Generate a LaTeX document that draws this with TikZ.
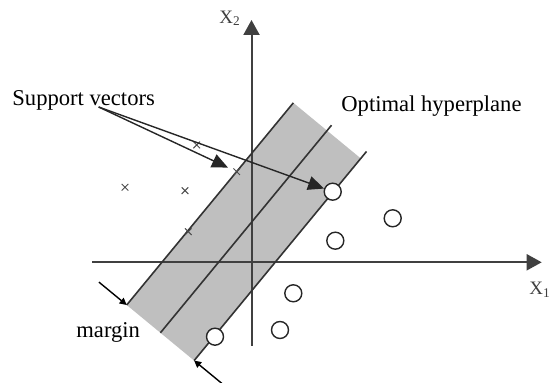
\documentclass[tikz,border=0pt]{standalone}
\usepackage{fontspec}
\setmainfont{Liberation Serif}
\usetikzlibrary{arrows.meta,calc,shapes.misc}

\begin{document}
\begin{tikzpicture}[
  x=0.5pt,
  y=0.5pt,
  font=\fontsize{11.3}{13}\selectfont,
  caption/.style={inner sep=0pt, anchor=base west},
  axislabel/.style={inner sep=0pt, anchor=base west, font=\fontsize{9.5}{11}\selectfont, text=black!75},
  axis/.style={line width=1pt, draw=black!75, -{Triangle[length=7.5pt, width=8pt]}},
  band/.style={fill=black!25},
  edge/.style={line width=0.8pt, draw=black!80},
  pointer/.style={line width=0.7pt, draw=black!85, -{Triangle[length=8pt, width=7pt]}},
  marrow/.style={line width=0.7pt, -{Triangle[length=3.5pt, width=3.5pt]}},
  cross/.style={cross out, draw=black!70, line width=0.5pt, minimum size=2.8pt, inner sep=0pt},
  sample/.style={circle, draw=black!85, fill=white, line width=0.7pt, minimum size=8.5pt, inner sep=0pt}
]
  \useasboundingbox (0,0) rectangle (551,383);

  \begin{scope}[shift={(126.7,78)}, rotate=50.5]
    \coordinate (lb) at (0,0);
    \coordinate (lt) at (262,0);
    \coordinate (mb) at (0,-43.7);
    \coordinate (mt) at (269,-43.7);
    \coordinate (rb) at (0,-87.4);
    \coordinate (rg) at (262,-87.4);
    \coordinate (rt) at (271,-87.4);
  \end{scope}
  \fill[band] (lb) -- (lt) -- (rg) -- (rb) -- cycle;

  \coordinate (xa) at (92,120.7);
  \coordinate (xb) at (541.7,120.7);
  \coordinate (ya) at (251.5,37);
  \coordinate (yb) at (251.5,363);
  \draw[axis] (xa) -- (xb);
  \draw[axis] (ya) -- (yb);
  \node[axislabel] (x2) at (219,359.7) {X\textsubscript{2}};
  \node[axislabel] (x1) at (529,88) {X\textsubscript{1}};

  \draw[edge] (lb) -- (lt);
  \draw[edge] (mb) -- (mt);
  \draw[edge] (rb) -- (rt);

  \node[caption] (sv) at (12,277) {Support vectors};
  \node[caption] (oh) at (341,271) {Optimal hyperplane};
  \node[caption] (mg) at (76,45) {margin};

  \node[cross] (s1) at (125,195.7) {};
  \node[cross] (s2) at (185,192.3) {};
  \node[cross] (s3) at (188.3,151.3) {};
  \node[cross] (s4) at (236.7,211.3) {};
  \node[cross] (s5) at (196.7,238) {};

  \node[sample] (c1) at (332.7,191.3) {};
  \node[sample] (c2) at (392.7,164.7) {};
  \node[sample] (c3) at (335.3,142.3) {};
  \node[sample] (c4) at (293.3,89.7) {};
  \node[sample] (c5) at (280,53) {};
  \node[sample] (c6) at (215,46.3) {};

  \coordinate (svfoot) at ($(sv.base)+(15,-1)$);
  \draw[pointer, shorten >=3pt] (svfoot) -- (s4);
  \draw[pointer] (svfoot) -- (c1);

  \coordinate (mtop) at ($(lb)!-18pt!(rb)$);
  \coordinate (mbot) at ($(rb)!-18pt!(lb)$);
  \draw[marrow] (mtop) -- (lb);
  \draw[marrow] (mbot) -- (rb);
\end{tikzpicture}
\end{document}
